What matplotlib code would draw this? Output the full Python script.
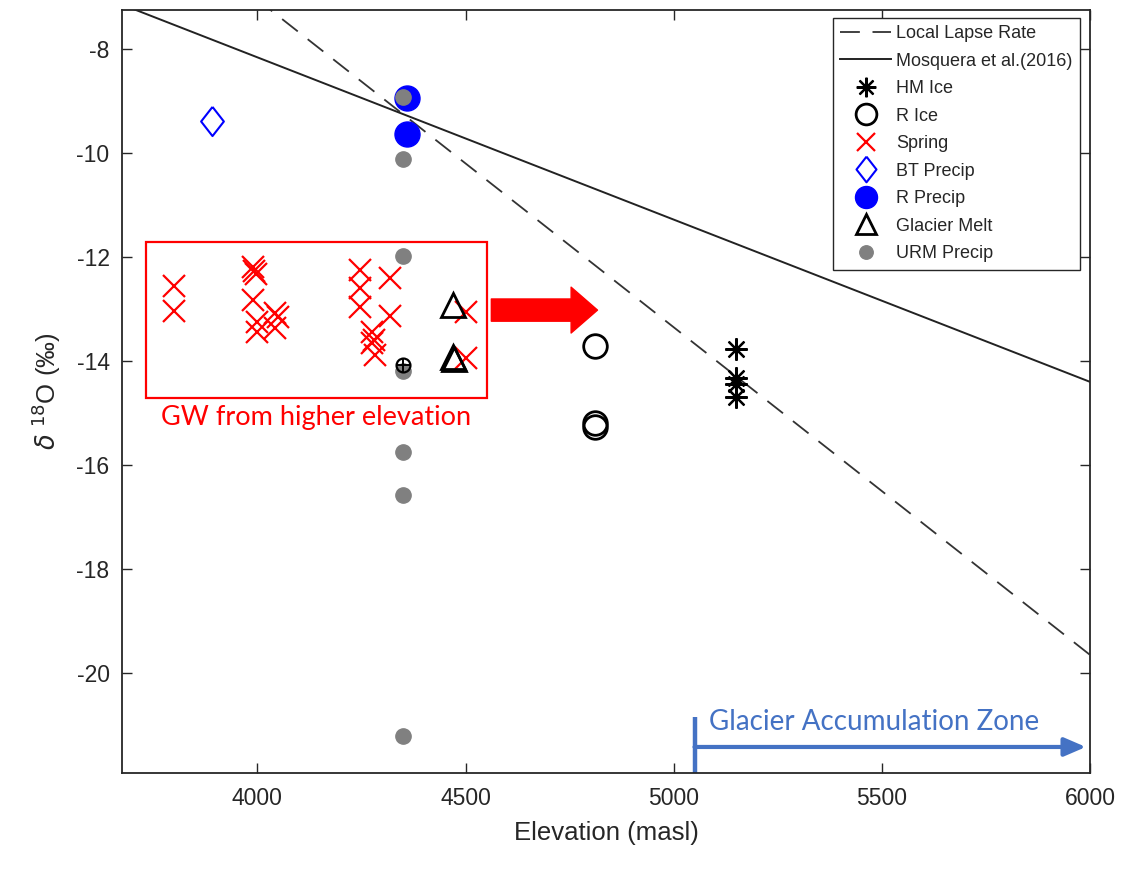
import numpy as np
import matplotlib
matplotlib.use("Agg")
import matplotlib.pyplot as plt
from matplotlib.patches import Rectangle

plt.rcParams['font.family'] = ['Liberation Sans', 'DejaVu Sans']
plt.rcParams['axes.unicode_minus'] = False

# ---- data ----
hm_ice_x = [5150, 5150, 5150, 5150]
hm_ice_y = [-13.77, -14.33, -14.45, -14.69]

r_ice_x = [4810, 4810, 4810]
r_ice_y = [-13.72, -15.19, -15.27]

spring_x = [3800, 3800, 3990, 3993, 3996, 3990, 4000, 4000, 4043, 4050, 4043,
            4246, 4246, 4246, 4318, 4318, 4275, 4280, 4275, 4282, 4500, 4500]
spring_y = [-12.56, -13.04, -12.19, -12.27, -12.33, -12.83, -13.25, -13.44, -13.08,
            -13.15, -13.37, -12.25, -12.6, -12.96, -12.4, -13.13, -13.44, -13.6,
            -13.65, -13.88, -13.06, -13.94]

bt_precip_x = [3890]
bt_precip_y = [-9.38]

r_precip_x = [4360, 4360]
r_precip_y = [-8.95, -9.63]

melt_x = [4470, 4470, 4472]
melt_y = [-12.92, -13.92, -13.96]

urm_x = [4350, 4350, 4350, 4350, 4350, 4350, 4350]
urm_y = [-8.92, -10.12, -11.98, -14.2, -15.75, -16.58, -21.2]

odd_x = [4350]
odd_y = [-14.08]

# regression lines: y = a + b * x
lapse_a, lapse_b = 18.15, -0.0063
mosq_a, mosq_b = 4.32, -0.00312
line_x = np.array([3600, 6100])

fig = plt.figure(figsize=(11.27, 8.69), dpi=100)
ax = fig.add_axes([0.1083, 0.1105, 0.8589, 0.878])

ax.plot(line_x, lapse_a + lapse_b * line_x, color='#333333', lw=1.3,
        linestyle=(0, (11, 7)), label='Local Lapse Rate')
ax.plot(line_x, mosq_a + mosq_b * line_x, color='#222222', lw=1.4,
        label='Mosquera et al.(2016)')

ax.plot(hm_ice_x, hm_ice_y, ls='none', marker=(8, 2, 0), ms=16, mew=1.6,
        color='black', label='HM Ice')
ax.plot(r_ice_x, r_ice_y, ls='none', marker='o', ms=17, mew=2,
        mfc='none', mec='black', label='R Ice')
ax.plot(spring_x, spring_y, ls='none', marker='x', ms=15.5, mew=1.6,
        color='red', label='Spring')
diamond = [(0, 1), (0.78, 0), (0, -1), (-0.78, 0), (0, 1)]
ax.plot(bt_precip_x, bt_precip_y, ls='none', marker=diamond, ms=21, mew=1.5,
        mfc='none', mec='blue', label='BT Precip')
ax.plot(r_precip_x, r_precip_y, ls='none', marker='o', ms=18,
        color='blue', label='R Precip')
ax.plot(melt_x, melt_y, ls='none', marker='^', ms=17, mew=2,
        mfc='none', mec='black', label='Glacier Melt')
ax.plot(urm_x, urm_y, ls='none', marker='o', ms=11,
        color='#808080', label='URM Precip')
ax.plot(odd_x, odd_y, ls='none', marker='o', ms=10, mew=1.6,
        mfc='none', mec='black')
ax.plot(odd_x, odd_y, ls='none', marker='+', ms=10, mew=1.4, color='black')

ax.set_xlim(3675, 6000)
ax.set_ylim(-21.92, -7.25)
ax.set_xticks([4000, 4500, 5000, 5500, 6000])
ax.set_yticks([-20, -18, -16, -14, -12, -10, -8])
ax.tick_params(direction='in', length=7, width=1, top=True, right=True,
               labelsize=16.5, colors='#262626')
ax.tick_params(axis='y', pad=9)
ax.tick_params(axis='x', pad=10)
for s in ax.spines.values():
    s.set_color('#262626')
    s.set_linewidth(1.3)

ax.set_xlabel('Elevation (masl)', fontsize=18.5, color='#262626', labelpad=8)
ax.set_ylabel(r'$\delta$ $^{18}$O (‰)', fontsize=18.5, color='#262626', labelpad=10)

leg = ax.legend(loc='upper right', bbox_to_anchor=(0.99, 0.99), borderaxespad=0,
                fontsize=13, fancybox=False, edgecolor='#262626', framealpha=1,
                handlelength=2.8, handletextpad=0.3, labelspacing=0.58,
                borderpad=0.42, markerscale=0.88)
leg.get_frame().set_linewidth(1.0)
for t in leg.get_texts():
    t.set_color('#262626')

# annotations
ax.add_patch(Rectangle((3732, -14.71), 4552 - 3732, 3.0, fill=False,
                       edgecolor='red', lw=1.6, zorder=1))
ax.text(4142, -15.08, 'GW from higher elevation', color='red', fontsize=19.5,
        family='Lato', ha='center', va='center')
ax.annotate('', xy=(4817, -13.02), xytext=(4562, -13.02),
            arrowprops=dict(arrowstyle='simple,head_length=1.9,head_width=3.3,tail_width=1.6',
                            mutation_scale=10, color='red', shrinkA=0, shrinkB=0))

acc_col = '#4472C4'
ax.plot([5050, 5050], [-20.85, -21.92], color=acc_col, lw=3.2, solid_capstyle='butt')
ax.annotate('', xy=(5990, -21.42), xytext=(5050, -21.42),
            arrowprops=dict(arrowstyle='-|>,head_length=0.65,head_width=0.28',
                            mutation_scale=20, color=acc_col, lw=3,
                            shrinkA=0, shrinkB=0))
ax.text(5482, -20.94, 'Glacier Accumulation Zone', color=acc_col, fontsize=20,
        family='Lato', ha='center', va='center')

fig.savefig('out.png', dpi=100)
